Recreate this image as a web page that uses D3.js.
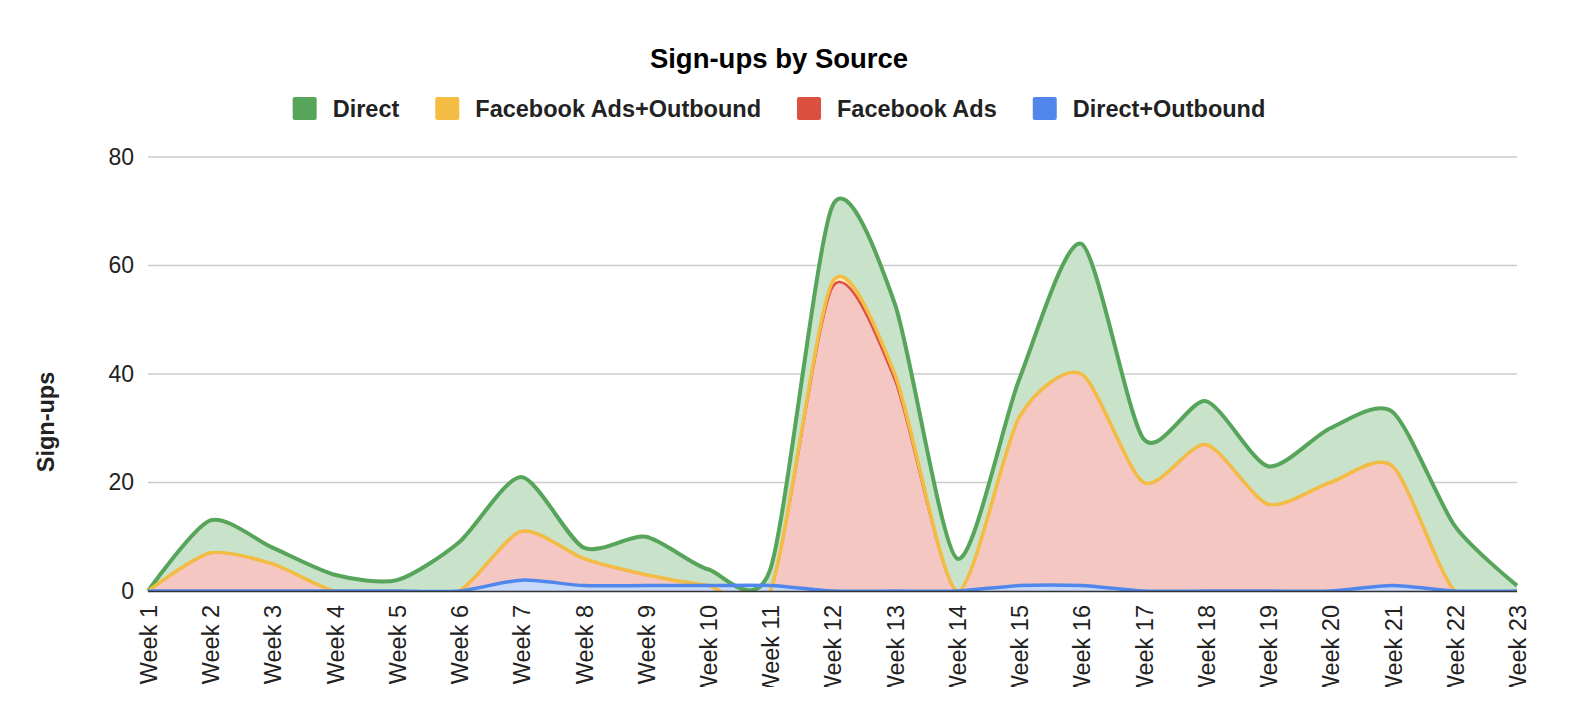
<!DOCTYPE html>
<html>
<head>
<meta charset="utf-8">
<script src="https://cdn.jsdelivr.net/npm/d3@7"></script>
<style>
  body { margin: 0; background: #fff; }
  text { font-family: "Liberation Sans", Arial, sans-serif; }
</style>
</head>
<body>
<div id="chart"></div>
<script>
// Data
var weeks = ["Week 1", "Week 2", "Week 3", "Week 4", "Week 5", "Week 6", "Week 7", "Week 8",
  "Week 9", "Week 10", "Week 11", "Week 12", "Week 13", "Week 14", "Week 15", "Week 16",
  "Week 17", "Week 18", "Week 19", "Week 20", "Week 21", "Week 22", "Week 23"];

var direct         = [0, 13, 8, 3, 2, 9, 21, 8, 10, 4, 4, 71, 53, 6, 39, 64, 28, 35, 23, 30, 33, 12, 1];
var fbOutbound     = [0, 7, 5, 0, 0, 0, 11, 6, 3, 1, 0, 57, 40, 0, 32, 40, 20, 27, 16, 20, 23, 0, 0];
var fbAds          = [0, 7, 5, 0, 0, 0, 11, 6, 3, 1, 0, 56, 39, 0, 32, 40, 20, 27, 16, 20, 23, 0, 0];
var directOutbound = [0, 0, 0, 0, 0, 0, 2, 1, 1, 1, 1, 0, 0, 0, 1, 1, 0, 0, 0, 0, 1, 0, 0];

var seriesNames = ["Direct", "Facebook Ads+Outbound", "Facebook Ads", "Direct+Outbound"];
var seriesColors = ["#57a55a", "#f4bc42", "#dc5040", "#5187ec"];
var yTicks = [0, 20, 40, 60, 80];

var series = [direct, fbOutbound, fbAds, directOutbound].map(function(vals, i) {
  return { name: seriesNames[i], color: seriesColors[i], values: vals };
});

// SVG settings
var svgWidth = 1572;
var svgHeight = 712;

var margin = { top: 157, right: 55, bottom: 121, left: 148 };
var width = svgWidth - margin.left - margin.right;
var height = svgHeight - margin.top - margin.bottom;

var svg = d3.select("#chart")
  .append("svg")
  .attr("width", svgWidth)
  .attr("height", svgHeight);

var defs = svg.append("defs");
defs.append("clipPath").attr("id", "plotClip")
  .append("rect")
  .attr("x", -2).attr("y", -4)
  .attr("width", width + 4).attr("height", height + 5);
defs.append("clipPath").attr("id", "labelClip")
  .append("rect")
  .attr("x", -40).attr("y", 0)
  .attr("width", width + 80).attr("height", 687 - margin.top - height);

var chartGroup = svg.append("g")
  .attr("transform", `translate(${margin.left}, ${margin.top})`);

// Scales
var xScale = d3.scalePoint().domain(weeks).range([0, width]);
var yScale = d3.scaleLinear().domain([0, 80]).range([height, 0]);

// Gridlines
chartGroup.append("g")
  .selectAll("line")
  .data(yTicks.filter(d => d > 0))
  .enter()
  .append("line")
  .attr("x1", 0).attr("x2", width)
  .attr("y1", d => yScale(d)).attr("y2", d => yScale(d))
  .attr("stroke", "#cccccc")
  .attr("stroke-width", 1.3);

// Areas and lines (smoothed, a bit tighter than plain Catmull-Rom)
var curve = d3.curveCardinal.tension(0.25);

var area = d3.area()
  .curve(curve)
  .x((d, i) => xScale(weeks[i]))
  .y0(yScale(0))
  .y1(d => yScale(d));

var line = d3.line()
  .curve(curve)
  .x((d, i) => xScale(weeks[i]))
  .y(d => yScale(d));

var plot = chartGroup.append("g").attr("clip-path", "url(#plotClip)");

plot.selectAll(".area")
  .data(series)
  .enter()
  .append("path")
  .attr("class", "area")
  .attr("d", d => area(d.values))
  .attr("fill", d => d3.interpolateRgb("#ffffff", d.color)(0.32));

// baseline axis line
chartGroup.append("line")
  .attr("x1", 0).attr("x2", width)
  .attr("y1", height + 0.5).attr("y2", height + 0.5)
  .attr("stroke", "#333333")
  .attr("stroke-width", 1.5);

var lineWidths = { "Direct": 4, "Facebook Ads+Outbound": 3.5, "Facebook Ads": 2.5, "Direct+Outbound": 3.5 };
var lineOrder = [series[0], series[2], series[1], series[3]];

plot.selectAll(".line")
  .data(lineOrder)
  .enter()
  .append("path")
  .attr("class", "line")
  .attr("d", d => line(d.values))
  .attr("fill", "none")
  .attr("stroke", d => d.color)
  .attr("stroke-width", d => lineWidths[d.name])
  .attr("stroke-linejoin", "round");

// Y axis
var leftAxis = d3.axisLeft(yScale).tickValues(yTicks).tickSize(0).tickPadding(14);
var yAxisG = chartGroup.append("g").call(leftAxis);
yAxisG.select(".domain").remove();
yAxisG.selectAll("text")
  .style("font-size", "23px")
  .style("font-family", "Liberation Sans, Arial, sans-serif")
  .attr("fill", "#222");

// X axis
var bottomAxis = d3.axisBottom(xScale).tickSize(0);
var xAxisG = chartGroup.append("g")
  .attr("transform", `translate(0, ${height})`)
  .attr("clip-path", "url(#labelClip)")
  .call(bottomAxis);
xAxisG.select(".domain").remove();
xAxisG.selectAll("text")
  .attr("transform", "rotate(-90)")
  .attr("x", -14)
  .attr("y", 0)
  .attr("dy", "0.36em")
  .style("text-anchor", "end")
  .style("font-size", "23.5px")
  .style("font-family", "Liberation Sans, Arial, sans-serif")
  .attr("fill", "#222");

// Axis title
svg.append("text")
  .attr("transform", "translate(54, 422) rotate(-90)")
  .attr("text-anchor", "middle")
  .style("font-size", "23.5px")
  .style("font-weight", "bold")
  .attr("fill", "#222")
  .text("Sign-ups");

// Chart title
svg.append("text")
  .attr("x", 779)
  .attr("y", 68)
  .attr("text-anchor", "middle")
  .style("font-size", "27.5px")
  .style("font-weight", "bold")
  .attr("fill", "#000")
  .text("Sign-ups by Source");

// Legend
var legend = svg.append("g");
var legendX = 0;
series.forEach(function(s) {
  var item = legend.append("g").attr("transform", `translate(${legendX}, 0)`);
  item.append("rect")
    .attr("x", 0).attr("y", 97)
    .attr("width", 24).attr("height", 23)
    .attr("rx", 2)
    .attr("fill", s.color);
  var t = item.append("text")
    .attr("x", 40).attr("y", 117)
    .style("font-size", "23.5px")
    .style("font-weight", "bold")
    .attr("fill", "#222")
    .text(s.name);
  legendX += 40 + t.node().getComputedTextLength() + 36;
});
var legendWidth = legendX - 36;
legend.attr("transform", `translate(${779 - legendWidth / 2}, 0)`);
</script>
</body>
</html>
